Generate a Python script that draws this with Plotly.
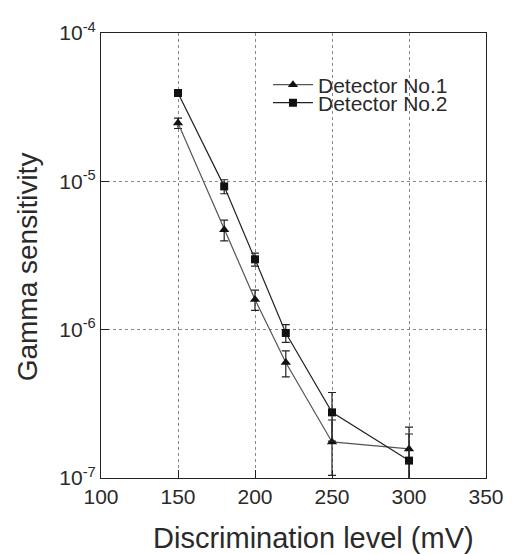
import plotly.graph_objects as go

levels = [150, 180, 200, 220, 250, 300]
det1 = [2.47e-5, 4.72e-6, 1.60e-6, 6.0e-7, 1.75e-7, 1.57e-7]
det1_err = [2.0e-6, 0.75e-6, 0.25e-6, 1.2e-7, 0.71e-7, 0.63e-7]
det2 = [3.94e-5, 9.25e-6, 2.98e-6, 9.5e-7, 2.77e-7, 1.31e-7]
det2_err = [1.0e-6, 1.0e-6, 0.3e-6, 1.3e-7, 1.0e-7, 0.67e-7]

xticks = [100, 150, 200, 250, 300, 350]
yticks = [1e-7, 1e-6, 1e-5, 1e-4]
yticklabels = ["10<sup>-7</sup>", "10<sup>-6</sup>", "10<sup>-5</sup>", "10<sup>-4</sup>"]

FONT = "Liberation Sans, Arial, sans-serif"
TXT = "#2a2a2a"

fig = go.Figure()
fig.add_trace(go.Scatter(
    x=levels, y=det1, name="Detector No.1", mode="lines+markers", legend="legend",
    line=dict(color="#555555", width=1.2),
    marker=dict(symbol="triangle-up", size=9, color="#111111"),
    error_y=dict(type="data", array=det1_err, visible=True, color="#222222", thickness=1.2, width=4),
))
fig.add_trace(go.Scatter(
    x=levels, y=det2, name="Detector No.2", mode="lines+markers", legend="legend2",
    line=dict(color="#222222", width=1.2),
    marker=dict(symbol="square", size=8, color="#111111"),
    error_y=dict(type="data", array=det2_err, visible=True, color="#222222", thickness=1.2, width=4),
))

def leg(ycenter):
    return dict(x=(271 - 101) / 392, y=1 - (ycenter - 33) / 445, xanchor="left", yanchor="middle",
                bgcolor="rgba(0,0,0,0)", font=dict(size=21, color=TXT),
                itemwidth=40, borderwidth=0)

gridstyle = dict(showgrid=True, gridcolor="#888888", griddash="dot", gridwidth=1,
                 showline=True, linecolor="#222222", linewidth=1.2, mirror=True,
                 ticks="inside", ticklen=8, tickcolor="#222222", zeroline=False,
                 tickfont=dict(size=21, color=TXT))

fig.update_layout(
    width=516, height=554,
    margin=dict(l=101, r=23, t=33, b=76),
    paper_bgcolor="white", plot_bgcolor="white",
    font=dict(family=FONT, size=20, color=TXT),
    showlegend=True,
    legend=leg(85),
    legend2=leg(103),
    xaxis=dict(range=[100, 350], tickvals=xticks, ticktext=[str(v) for v in xticks], **gridstyle),
    yaxis=dict(type="log", range=[-7, -4], tickvals=yticks, ticktext=yticklabels, **gridstyle),
    annotations=[
        dict(text="Discrimination level (mV)", xref="paper", yref="paper",
             x=(317 - 101) / 392, y=-(538 - 478) / 445, xanchor="center", yanchor="middle",
             showarrow=False, font=dict(size=29, color=TXT)),
        dict(text="Gamma sensitivity", xref="paper", yref="paper",
             x=-(101 - 26) / 392, y=1 - (267 - 33) / 445, xanchor="center", yanchor="middle",
             textangle=-90, showarrow=False, font=dict(size=28, color=TXT)),
    ],
)

fig.write_html("out.html")
